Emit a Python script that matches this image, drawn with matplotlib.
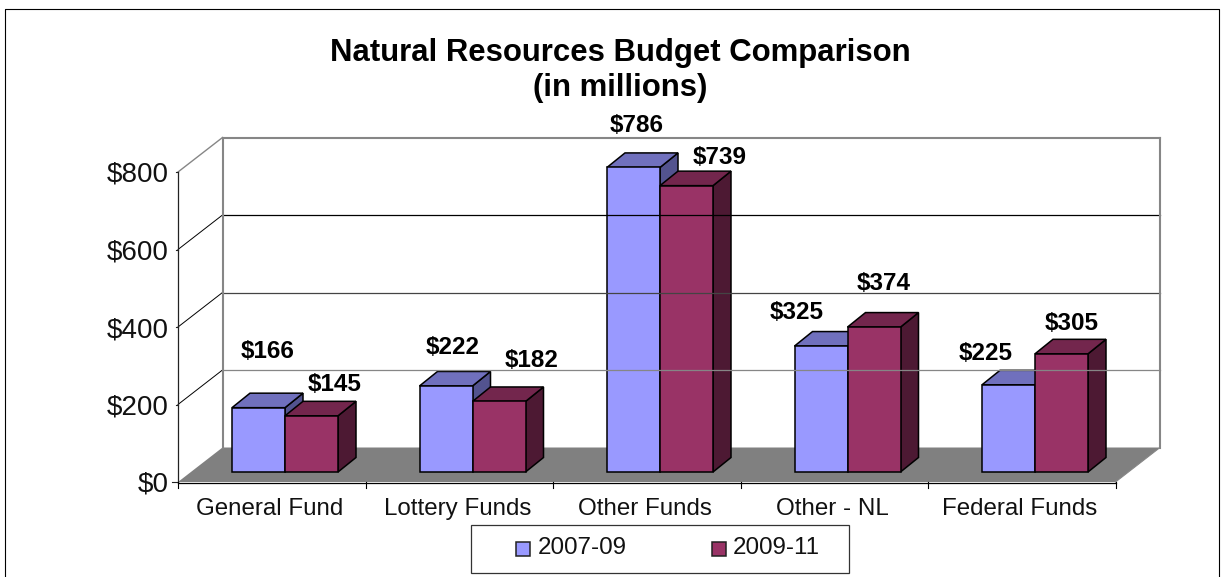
import numpy as np
from matplotlib import pyplot as plt
from matplotlib.patches import Polygon, Rectangle

categories = ["General Fund", "Lottery Funds", "Other Funds", "Other - NL", "Federal Funds"]
series_names = ["2007-09", "2009-11"]
vals_0709 = [166, 222, 786, 325, 225]
vals_0911 = [145, 182, 739, 374, 305]
yticks = [0, 200, 400, 600, 800]
ytick_labels = ["$0", "$200", "$400", "$600", "$800"]

# where the value labels sit (pixels), they are not tied to the bars in the original
label_pos_0709 = [(267.5, 352), (453, 347.5), (636.5, 125.5), (797, 312.5), (986, 353.5)]
label_pos_0911 = [(335, 384.5), (532, 360.5), (719.5, 158), (884, 283.5), (1071.5, 323)]

W, H = 1227, 577
plt.rcParams['font.family'] = ['Liberation Sans', 'DejaVu Sans']

fig = plt.figure(figsize=(W / 100, H / 100), dpi=100)
ax = fig.add_axes([0, 0, 1, 1])
ax.set_xlim(0, W)
ax.set_ylim(H, 0)
ax.axis("off")

x0, x1 = 178, 1115.5   # front plane
y0, y800 = 482, 172
dx, dy = 44.5, -34.5   # depth of the floor / walls
base_y = 472           # bars stand a bit behind the front edge of the floor
GREY = "#868686"


def yv(v):
    return y0 + (y800 - y0) * v / 800.0


def bar_y(v):
    return base_y + (y800 - y0) * v / 800.0


# outer border, cut off at the bottom
ax.plot([5, 5, 1219, 1219], [H, 9, 9, H], color="black", lw=0.8)

# floor
ax.add_patch(Polygon([(x0, y0), (x0 + dx, y0 + dy), (x1 + dx, y0 + dy), (x1, y0)], fc="#808080", ec="none"))

# gridlines on side wall and back wall
grid_colors = {200: GREY, 400: "#444444", 600: "black"}
for t in yticks[1:-1]:
    y = yv(t)
    ax.plot([x0, x0 + dx], [y, y + dy], color="black", lw=0.7)
    ax.plot([x0 + dx, x1 + dx], [y + dy, y + dy], color=grid_colors[t], lw=0.9)

# back wall frame
ax.plot([x0 + dx, x0 + dx], [y0 + dy, y800 + dy], color=GREY, lw=1.5)
ax.plot([x1 + dx, x1 + dx], [y0 + dy, y800 + dy], color=GREY, lw=1.5)
ax.plot([x0 + dx, x1 + dx], [y800 + dy, y800 + dy], color=GREY, lw=1.5)
ax.plot([x0, x0 + dx], [y800, y800 + dy], color=GREY, lw=1.0)
ax.plot([x1, x1 + dx], [y0, y0 + dy], color=GREY, lw=0.8)

# axes and ticks
ax.plot([x0, x0], [y800, y0], color="#222222", lw=0.9)
for t, lab in zip(yticks, ytick_labels):
    ax.plot([x0 - (6 if t == 0 else 2), x0], [yv(t), yv(t)], color="#222222", lw=0.8)
    ax.text(168.5, yv(t) + 3, lab, ha="right", va="center", fontsize=20, color="#111111")
ax.plot([x0, x1], [y0 + 0.5, y0 + 0.5], color="black", lw=0.9)

n = len(categories)
cat_w = (x1 - x0) / n
for i in range(n + 1):
    ax.plot([x0 + i * cat_w] * 2, [y0, y0 + 6], color="black", lw=0.8)


def bar3d(left, width, v, front, top, side):
    y = bar_y(v)
    r = left + width
    ddx, ddy = 18, -14.5
    ax.add_patch(Polygon([(r, base_y), (r + ddx, base_y + ddy), (r + ddx, y + ddy), (r, y)], fc=side, ec="black", lw=1.1, joinstyle="miter"))
    ax.add_patch(Polygon([(left, y), (left + ddx, y + ddy), (r + ddx, y + ddy), (r, y)], fc=top, ec="black", lw=1.1, joinstyle="miter"))
    ax.add_patch(Rectangle((left, y), width, base_y - y, fc=front, ec="black", lw=1.1))


bar_w = 53
for i in range(n):
    left = x0 + i * cat_w + 54
    bar3d(left, bar_w, vals_0709[i], "#9999ff", "#7070bd", "#53538f")
    bar3d(left + bar_w, bar_w, vals_0911[i], "#993366", "#73264d", "#4d1933")
    ax.text(label_pos_0709[i][0], label_pos_0709[i][1], "$%d" % vals_0709[i], ha="center", va="center", fontsize=17.5, fontweight="bold")
    ax.text(label_pos_0911[i][0], label_pos_0911[i][1], "$%d" % vals_0911[i], ha="center", va="center", fontsize=17.5, fontweight="bold")
    ax.text(x0 + (i + 0.5) * cat_w - 2, 515, categories[i], ha="center", va="baseline", fontsize=17.4, color="#111111")

ax.text(620.5, 61, "Natural Resources Budget Comparison", ha="center", va="baseline", fontsize=22.4, fontweight="bold")
ax.text(620.5, 96, "(in millions)", ha="center", va="baseline", fontsize=22.4, fontweight="bold")

# legend
ax.add_patch(Rectangle((470.5, 525), 378, 47.5, fc="white", ec="#333333", lw=0.9))
ax.add_patch(Rectangle((516, 542), 14, 14, fc="#9999ff", ec="#222222", lw=1.1))
ax.text(537.5, 548.5, series_names[0], va="center", fontsize=17.4, color="#111111")
ax.add_patch(Rectangle((711.5, 542), 14, 14, fc="#993366", ec="#222222", lw=1.1))
ax.text(733, 548.5, series_names[1], va="center", fontsize=17.4, color="#111111")

fig.savefig("out.png", dpi=100)
